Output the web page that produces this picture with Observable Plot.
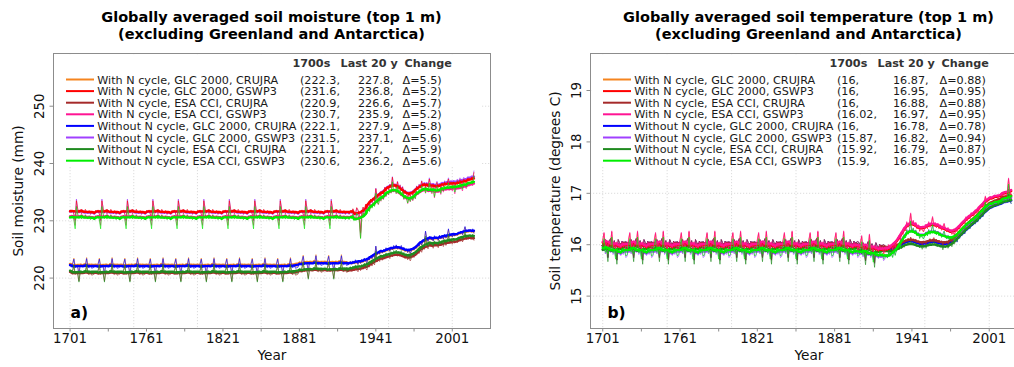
<!DOCTYPE html>
<html>
<head>
<meta charset="utf-8">
<script src="https://cdn.jsdelivr.net/npm/d3@7"></script>
<script src="https://cdn.jsdelivr.net/npm/@observablehq/plot@0.6"></script>
<style>
  html, body { margin: 0; padding: 0; background: #fff; }
  body { width: 1014px; height: 367px; overflow: hidden; position: relative; font-family: "DejaVu Sans", sans-serif; }
  .panel { position: absolute; top: 0; width: 500px; height: 367px; }
  .title { position: absolute; top: 9px; left: 23px; width: 497px; text-align: center; font-weight: bold;
           font-size: 14.5px; line-height: 16.5px; color: #000; white-space: nowrap; }
</style>
</head>
<body>
<div id="panelA" class="panel" style="left:0px"></div>
<div id="panelB" class="panel" style="left:537px"></div>
<script>
// Simulation years, one value per year
const years = d3.range(1701, 2019);

const seriesNames = [
  "With N cycle, GLC 2000, CRUJRA",
  "With N cycle, GLC 2000, GSWP3",
  "With N cycle, ESA CCI, CRUJRA",
  "With N cycle, ESA CCI, GSWP3",
  "Without N cycle, GLC 2000, CRUJRA",
  "Without N cycle, GLC 2000, GSWP3",
  "Without N cycle, ESA CCI, CRUJRA",
  "Without N cycle, ESA CCI, GSWP3"
];
const seriesColors = ["#f5841f", "#ff0000", "#a52a2a", "#ff1493", "#0000ff", "#a040ff", "#1f8a1f", "#00ee00"];
const drawOrder = [0, 4, 5, 2, 6, 1, 3, 7];

// Summary numbers printed in the legends
const moistEarly = [222.3, 231.6, 220.9, 230.7, 222.1, 231.5, 221.1, 230.6];
const moistLate  = [227.8, 236.8, 226.6, 235.9, 227.9, 237.1, 227, 236.2];
const moistDelta = [5.5, 5.2, 5.7, 5.2, 5.8, 5.6, 5.9, 5.6];
const tempEarly  = [16, 16, 16, 16.02, 16, 15.87, 15.92, 15.9];
const tempLate   = [16.87, 16.95, 16.88, 16.97, 16.78, 16.82, 16.79, 16.85];
const tempDelta  = [0.88, 0.95, 0.88, 0.95, 0.78, 0.94, 0.87, 0.95];

// Axis ticks
const xLabelYears = [1701, 1761, 1821, 1881, 1941, 2001];
const xTickYears = [1701, 1731, 1761, 1791, 1821, 1851, 1881, 1911, 1941, 1971, 2001];
const xGridYears = [1701, 1751, 1801, 1851, 1901, 1951, 2001];
const moistTicks = [220, 230, 240, 250];
const tempTicks = [15, 16, 17, 18, 19];

// ---------- Soil moisture (mm), annual, 1701-2018 ----------
const smWithGlcCru = [
222.4,222.1,222.6,223.5,222.0,222.3,222.1,220.9,222.5,222.4,222.2,222.6,222.3,223.6,222.1,222.0,222.4,221.9,222.0,222.1,
222.4,222.1,222.6,223.5,222.0,222.3,222.1,220.9,222.5,222.4,222.2,222.6,222.3,223.6,222.1,222.0,222.4,221.9,222.0,222.1,
222.4,222.1,222.6,223.5,222.0,222.3,222.1,220.9,222.5,222.4,222.2,222.6,222.3,223.6,222.1,222.0,222.4,221.9,222.0,222.1,
222.4,222.1,222.6,223.5,222.0,222.3,222.1,220.9,222.5,222.4,222.2,222.6,222.3,223.6,222.1,222.0,222.4,221.9,222.0,222.1,
222.4,222.1,222.6,223.5,222.0,222.3,222.1,220.9,222.5,222.4,222.2,222.6,222.3,223.6,222.1,222.0,222.4,221.9,222.0,222.1,
222.4,222.1,222.6,223.5,222.0,222.3,222.1,220.9,222.5,222.4,222.2,222.6,222.3,223.6,222.1,222.0,222.4,221.9,222.0,222.1,
222.4,222.1,222.6,223.5,222.0,222.3,222.1,220.9,222.5,222.4,222.2,222.6,222.3,223.6,222.1,222.0,222.4,221.9,222.0,222.1,
222.4,222.1,222.6,223.5,222.0,222.3,222.1,220.9,222.5,222.4,222.2,222.6,222.3,223.6,222.1,222.0,222.4,221.9,222.0,222.1,
222.4,222.1,222.6,223.5,222.0,222.3,222.1,220.9,222.5,222.4,222.2,222.6,222.3,223.6,222.1,222.0,222.4,221.9,222.0,222.1,
222.9,222.6,223.1,224.0,222.5,222.8,222.6,221.4,223.0,222.9,222.7,223.1,222.8,224.1,222.6,222.5,222.9,222.4,222.5,222.6,
222.9,222.6,223.1,224.0,222.5,222.8,222.6,221.4,223.0,222.9,222.7,223.1,222.8,224.1,222.6,222.5,222.9,222.4,222.5,222.6,
222.8,222.4,222.9,222.5,223.1,222.7,222.3,223.0,222.5,223.2,
222.8,223.4,222.9,222.6,223.5,223.1,223.8,223.3,223.9,223.5,
225.5,224.0,224.5,224.1,224.8,224.3,224.9,224.5,225.2,224.7,
225.0,224.6,225.4,224.9,225.6,225.1,225.7,225.0,225.5,225.2,
225.6,224.9,225.3,224.6,225.0,224.4,224.8,224.2,224.7,225.1,
224.8,225.5,225.2,225.9,225.5,226.1,225.7,226.6,226.2,228.1,
226.8,226.3,227.2,226.7,227.1,226.4,227.3,226.8,227.1,226.5,
227.4,226.8,227.2,226.7,227.5,226.9,227.3,228.5,227.2,227.7,
227.1,227.5,227.3,227.7,227.4,227.9,227.6,228.1,227.5,228.1,
228.9,227.9,228.2,228.0,228.3,228.2,228.5,227.8
];
const smWithGlcGsw = [
231.8,231.5,231.9,231.2,230.1,233.5,232.1,231.4,231.7,231.3,231.8,231.5,232.0,231.6,231.3,231.8,231.2,231.4,231.7,231.2,
231.8,231.5,231.9,231.2,230.1,233.5,232.1,231.4,231.7,231.3,231.8,231.5,232.0,231.6,231.3,231.8,231.2,231.4,231.7,231.2,
231.8,231.5,231.9,231.2,230.1,233.5,232.1,231.4,231.7,231.3,231.8,231.5,232.0,231.6,231.3,231.8,231.2,231.4,231.7,231.2,
231.8,231.5,231.9,231.2,230.1,233.5,232.1,231.4,231.7,231.3,231.8,231.5,232.0,231.6,231.3,231.8,231.2,231.4,231.7,231.2,
231.8,231.5,231.9,231.2,230.1,233.5,232.1,231.4,231.7,231.3,231.8,231.5,232.0,231.6,231.3,231.8,231.2,231.4,231.7,231.2,
231.8,231.5,231.9,231.2,230.1,233.5,232.1,231.4,231.7,231.3,231.8,231.5,232.0,231.6,231.3,231.8,231.2,231.4,231.7,231.2,
231.8,231.5,231.9,231.2,230.1,233.5,232.1,231.4,231.7,231.3,231.8,231.5,232.0,231.6,231.3,231.8,231.2,231.4,231.7,231.2,
231.8,231.5,231.9,231.2,230.1,233.5,232.1,231.4,231.7,231.3,231.8,231.5,232.0,231.6,231.3,231.8,231.2,231.4,231.7,231.2,
231.8,231.5,231.9,231.2,230.1,233.5,232.1,231.4,231.7,231.3,231.8,231.5,232.0,231.6,231.3,231.8,231.2,231.4,231.7,231.2,
231.8,231.5,231.9,231.2,230.1,233.5,232.1,231.4,231.7,231.3,231.8,231.5,232.0,231.6,231.3,231.8,231.2,231.4,231.7,231.2,
231.8,231.5,231.9,231.2,230.1,233.5,232.1,231.4,231.7,231.3,231.8,231.5,232.0,231.6,231.3,231.8,231.2,231.4,231.7,231.2,
231.8,231.4,232.1,231.6,231.2,232.3,231.9,231.0,227.9,231.5,
232.4,231.8,232.9,232.2,233.1,232.6,233.8,233.2,234.0,233.5,
235.6,234.1,233.7,234.6,234.3,235.2,234.6,235.8,235.1,236.0,
235.4,236.3,235.7,237.6,235.9,236.4,235.6,236.8,235.7,236.2,
235.4,235.9,234.6,235.3,234.9,233.9,234.8,234.2,235.0,234.4,
235.1,234.7,236.0,235.4,236.3,235.8,236.9,236.0,236.6,235.7,
236.5,236.0,237.3,236.1,235.6,236.4,234.9,236.2,236.7,235.8,
236.3,235.5,236.6,235.9,236.8,236.2,236.5,237.3,236.2,236.8,
236.1,236.7,235.6,236.6,237.0,236.4,237.2,236.7,236.1,237.3,
236.8,236.5,237.4,236.9,237.1,237.6,237.0,238.4
];
const smWithEsaCru = [
221.0,220.7,221.2,222.1,220.6,220.9,220.7,219.5,221.1,221.0,220.8,221.2,220.9,222.2,220.7,220.6,221.0,220.5,220.6,220.7,
221.0,220.7,221.2,222.1,220.6,220.9,220.7,219.5,221.1,221.0,220.8,221.2,220.9,222.2,220.7,220.6,221.0,220.5,220.6,220.7,
221.0,220.7,221.2,222.1,220.6,220.9,220.7,219.5,221.1,221.0,220.8,221.2,220.9,222.2,220.7,220.6,221.0,220.5,220.6,220.7,
221.0,220.7,221.2,222.1,220.6,220.9,220.7,219.5,221.1,221.0,220.8,221.2,220.9,222.2,220.7,220.6,221.0,220.5,220.6,220.7,
221.0,220.7,221.2,222.1,220.6,220.9,220.7,219.5,221.1,221.0,220.8,221.2,220.9,222.2,220.7,220.6,221.0,220.5,220.6,220.7,
221.0,220.7,221.2,222.1,220.6,220.9,220.7,219.5,221.1,221.0,220.8,221.2,220.9,222.2,220.7,220.6,221.0,220.5,220.6,220.7,
221.0,220.7,221.2,222.1,220.6,220.9,220.7,219.5,221.1,221.0,220.8,221.2,220.9,222.2,220.7,220.6,221.0,220.5,220.6,220.7,
221.0,220.7,221.2,222.1,220.6,220.9,220.7,219.5,221.1,221.0,220.8,221.2,220.9,222.2,220.7,220.6,221.0,220.5,220.6,220.7,
221.0,220.7,221.2,222.1,220.6,220.9,220.7,219.5,221.1,221.0,220.8,221.2,220.9,222.2,220.7,220.6,221.0,220.5,220.6,220.7,
221.5,221.2,221.7,222.6,221.1,221.4,221.2,220.0,221.6,221.5,221.3,221.7,221.4,222.7,221.2,221.1,221.5,221.0,221.1,221.2,
221.5,221.2,221.7,222.6,221.1,221.4,221.2,220.0,221.6,221.5,221.3,221.7,221.4,222.7,221.2,221.1,221.5,221.0,221.1,221.2,
221.6,221.2,221.7,221.3,221.9,221.5,221.1,221.8,221.3,222.0,
221.6,222.2,221.7,221.4,222.3,221.9,222.6,222.1,222.7,222.3,
224.3,222.8,223.3,222.9,223.6,223.1,223.7,223.3,224.0,223.5,
223.8,223.4,224.2,223.7,224.4,223.9,224.5,223.8,224.3,224.0,
224.4,223.7,224.1,223.4,223.8,223.2,223.6,223.0,223.5,223.9,
223.6,224.3,224.0,224.7,224.3,224.9,224.5,225.4,225.0,226.9,
225.6,225.1,226.0,225.5,225.9,225.2,226.1,225.6,225.9,225.3,
226.2,225.6,226.0,225.5,226.3,225.7,226.1,227.3,226.0,226.5,
225.9,226.3,226.1,226.5,226.2,226.7,226.4,226.9,226.3,226.9,
227.7,226.7,227.0,226.8,227.1,227.0,227.3,226.6
];
const smWithEsaGsw = [
230.9,230.6,231.0,230.3,229.2,232.6,231.2,230.5,230.8,230.4,230.9,230.6,231.1,230.7,230.4,230.9,230.3,230.5,230.8,230.3,
230.9,230.6,231.0,230.3,229.2,232.6,231.2,230.5,230.8,230.4,230.9,230.6,231.1,230.7,230.4,230.9,230.3,230.5,230.8,230.3,
230.9,230.6,231.0,230.3,229.2,232.6,231.2,230.5,230.8,230.4,230.9,230.6,231.1,230.7,230.4,230.9,230.3,230.5,230.8,230.3,
230.9,230.6,231.0,230.3,229.2,232.6,231.2,230.5,230.8,230.4,230.9,230.6,231.1,230.7,230.4,230.9,230.3,230.5,230.8,230.3,
230.9,230.6,231.0,230.3,229.2,232.6,231.2,230.5,230.8,230.4,230.9,230.6,231.1,230.7,230.4,230.9,230.3,230.5,230.8,230.3,
230.9,230.6,231.0,230.3,229.2,232.6,231.2,230.5,230.8,230.4,230.9,230.6,231.1,230.7,230.4,230.9,230.3,230.5,230.8,230.3,
230.9,230.6,231.0,230.3,229.2,232.6,231.2,230.5,230.8,230.4,230.9,230.6,231.1,230.7,230.4,230.9,230.3,230.5,230.8,230.3,
230.9,230.6,231.0,230.3,229.2,232.6,231.2,230.5,230.8,230.4,230.9,230.6,231.1,230.7,230.4,230.9,230.3,230.5,230.8,230.3,
230.9,230.6,231.0,230.3,229.2,232.6,231.2,230.5,230.8,230.4,230.9,230.6,231.1,230.7,230.4,230.9,230.3,230.5,230.8,230.3,
230.9,230.6,231.0,230.3,229.2,232.6,231.2,230.5,230.8,230.4,230.9,230.6,231.1,230.7,230.4,230.9,230.3,230.5,230.8,230.3,
230.9,230.6,231.0,230.3,229.2,232.6,231.2,230.5,230.8,230.4,230.9,230.6,231.1,230.7,230.4,230.9,230.3,230.5,230.8,230.3,
230.9,230.5,231.2,230.7,230.3,231.4,231.0,230.1,227.0,230.6,
231.5,230.9,232.0,231.3,232.2,231.7,232.9,232.3,233.1,232.6,
234.7,233.2,232.8,233.7,233.4,234.3,233.7,234.9,234.2,235.1,
234.5,235.4,234.8,236.7,235.0,235.5,234.7,235.9,234.8,235.3,
234.5,235.0,233.7,234.4,234.0,233.0,233.9,233.3,234.1,233.5,
234.2,233.8,235.1,234.5,235.4,234.9,236.0,235.1,235.7,234.8,
235.6,235.1,236.4,235.2,234.7,235.5,234.0,235.3,235.8,234.9,
235.4,234.6,235.7,235.0,235.9,235.3,235.6,236.4,235.3,235.9,
235.2,235.8,234.7,235.7,236.1,235.5,236.3,235.8,235.2,236.4,
235.9,235.6,236.5,236.0,236.2,236.7,236.1,237.5
];
const smNoGlcCru = [
222.2,221.9,222.4,223.3,221.8,222.1,221.9,220.7,222.3,222.2,222.0,222.4,222.1,223.4,221.9,221.8,222.2,221.7,221.8,221.9,
222.2,221.9,222.4,223.3,221.8,222.1,221.9,220.7,222.3,222.2,222.0,222.4,222.1,223.4,221.9,221.8,222.2,221.7,221.8,221.9,
222.2,221.9,222.4,223.3,221.8,222.1,221.9,220.7,222.3,222.2,222.0,222.4,222.1,223.4,221.9,221.8,222.2,221.7,221.8,221.9,
222.2,221.9,222.4,223.3,221.8,222.1,221.9,220.7,222.3,222.2,222.0,222.4,222.1,223.4,221.9,221.8,222.2,221.7,221.8,221.9,
222.2,221.9,222.4,223.3,221.8,222.1,221.9,220.7,222.3,222.2,222.0,222.4,222.1,223.4,221.9,221.8,222.2,221.7,221.8,221.9,
222.2,221.9,222.4,223.3,221.8,222.1,221.9,220.7,222.3,222.2,222.0,222.4,222.1,223.4,221.9,221.8,222.2,221.7,221.8,221.9,
222.2,221.9,222.4,223.3,221.8,222.1,221.9,220.7,222.3,222.2,222.0,222.4,222.1,223.4,221.9,221.8,222.2,221.7,221.8,221.9,
222.2,221.9,222.4,223.3,221.8,222.1,221.9,220.7,222.3,222.2,222.0,222.4,222.1,223.4,221.9,221.8,222.2,221.7,221.8,221.9,
222.2,221.9,222.4,223.3,221.8,222.1,221.9,220.7,222.3,222.2,222.0,222.4,222.1,223.4,221.9,221.8,222.2,221.7,221.8,221.9,
222.7,222.4,222.9,223.8,222.3,222.6,222.4,221.2,222.8,222.7,222.5,222.9,222.6,223.9,222.4,222.3,222.7,222.2,222.3,222.4,
222.7,222.4,222.9,223.8,222.3,222.6,222.4,221.2,222.8,222.7,222.5,222.9,222.6,223.9,222.4,222.3,222.7,222.2,222.3,222.4,
222.9,222.5,223.0,222.6,223.2,222.8,222.4,223.1,222.6,223.3,
222.9,223.5,223.0,222.7,223.6,223.2,223.9,223.4,224.0,223.6,
225.6,224.1,224.6,224.2,224.9,224.4,225.0,224.6,225.3,224.8,
225.1,224.7,225.5,225.0,225.7,225.2,225.8,225.1,225.6,225.3,
225.7,225.0,225.4,224.7,225.1,224.5,224.9,224.3,224.8,225.2,
224.9,225.6,225.3,226.0,225.6,226.2,225.8,226.7,226.3,228.2,
226.9,226.4,227.3,226.8,227.2,226.5,227.4,226.9,227.2,226.6,
227.5,226.9,227.3,226.8,227.6,227.0,227.4,228.6,227.3,227.8,
227.2,227.6,227.4,227.8,227.5,228.0,227.7,228.2,227.6,228.2,
229.0,228.0,228.3,228.1,228.4,228.3,228.6,227.9
];
const smNoGlcGsw = [
231.7,231.4,231.8,231.1,230.0,233.8,232.0,231.3,231.6,231.2,231.7,231.4,231.9,231.5,231.2,231.7,231.1,231.3,231.6,231.1,
231.7,231.4,231.8,231.1,230.0,233.8,232.0,231.3,231.6,231.2,231.7,231.4,231.9,231.5,231.2,231.7,231.1,231.3,231.6,231.1,
231.7,231.4,231.8,231.1,230.0,233.8,232.0,231.3,231.6,231.2,231.7,231.4,231.9,231.5,231.2,231.7,231.1,231.3,231.6,231.1,
231.7,231.4,231.8,231.1,230.0,233.8,232.0,231.3,231.6,231.2,231.7,231.4,231.9,231.5,231.2,231.7,231.1,231.3,231.6,231.1,
231.7,231.4,231.8,231.1,230.0,233.8,232.0,231.3,231.6,231.2,231.7,231.4,231.9,231.5,231.2,231.7,231.1,231.3,231.6,231.1,
231.7,231.4,231.8,231.1,230.0,233.8,232.0,231.3,231.6,231.2,231.7,231.4,231.9,231.5,231.2,231.7,231.1,231.3,231.6,231.1,
231.7,231.4,231.8,231.1,230.0,233.8,232.0,231.3,231.6,231.2,231.7,231.4,231.9,231.5,231.2,231.7,231.1,231.3,231.6,231.1,
231.7,231.4,231.8,231.1,230.0,233.8,232.0,231.3,231.6,231.2,231.7,231.4,231.9,231.5,231.2,231.7,231.1,231.3,231.6,231.1,
231.7,231.4,231.8,231.1,230.0,233.8,232.0,231.3,231.6,231.2,231.7,231.4,231.9,231.5,231.2,231.7,231.1,231.3,231.6,231.1,
231.7,231.4,231.8,231.1,230.0,233.8,232.0,231.3,231.6,231.2,231.7,231.4,231.9,231.5,231.2,231.7,231.1,231.3,231.6,231.1,
231.7,231.4,231.8,231.1,230.0,233.8,232.0,231.3,231.6,231.2,231.7,231.4,231.9,231.5,231.2,231.7,231.1,231.3,231.6,231.1,
231.7,231.3,232.0,231.5,231.1,232.2,231.8,230.9,227.8,231.4,
232.3,231.7,232.8,232.1,233.0,232.5,233.7,233.1,233.9,233.4,
235.7,234.2,233.8,234.7,234.4,235.3,234.7,235.9,235.2,236.1,
235.5,236.4,235.8,237.7,236.0,236.5,235.7,236.9,235.8,236.3,
235.5,236.0,234.7,235.4,235.0,234.0,234.9,234.3,235.1,234.5,
235.2,234.8,236.1,235.5,236.4,235.9,237.0,236.1,236.7,235.8,
236.7,236.2,237.5,236.3,235.8,236.6,235.1,236.4,236.9,236.0,
236.5,235.7,236.8,236.1,237.0,236.4,236.7,237.5,236.5,237.1,
236.4,237.0,235.9,236.9,237.3,236.7,237.5,237.0,236.4,237.6,
237.1,236.8,237.7,237.2,237.4,237.9,237.3,238.7
];
const smNoEsaCru = [
221.2,220.9,221.4,222.3,220.8,221.1,220.9,219.3,221.3,221.2,221.0,221.4,221.1,222.4,220.9,220.8,221.2,220.7,220.8,220.9,
221.2,220.9,221.4,222.3,220.8,221.1,220.9,219.3,221.3,221.2,221.0,221.4,221.1,222.4,220.9,220.8,221.2,220.7,220.8,220.9,
221.2,220.9,221.4,222.3,220.8,221.1,220.9,219.3,221.3,221.2,221.0,221.4,221.1,222.4,220.9,220.8,221.2,220.7,220.8,220.9,
221.2,220.9,221.4,222.3,220.8,221.1,220.9,219.3,221.3,221.2,221.0,221.4,221.1,222.4,220.9,220.8,221.2,220.7,220.8,220.9,
221.2,220.9,221.4,222.3,220.8,221.1,220.9,219.3,221.3,221.2,221.0,221.4,221.1,222.4,220.9,220.8,221.2,220.7,220.8,220.9,
221.2,220.9,221.4,222.3,220.8,221.1,220.9,219.3,221.3,221.2,221.0,221.4,221.1,222.4,220.9,220.8,221.2,220.7,220.8,220.9,
221.2,220.9,221.4,222.3,220.8,221.1,220.9,219.3,221.3,221.2,221.0,221.4,221.1,222.4,220.9,220.8,221.2,220.7,220.8,220.9,
221.2,220.9,221.4,222.3,220.8,221.1,220.9,219.3,221.3,221.2,221.0,221.4,221.1,222.4,220.9,220.8,221.2,220.7,220.8,220.9,
221.2,220.9,221.4,222.3,220.8,221.1,220.9,219.3,221.3,221.2,221.0,221.4,221.1,222.4,220.9,220.8,221.2,220.7,220.8,220.9,
221.7,221.4,221.9,222.8,221.3,221.6,221.4,219.8,221.8,221.7,221.5,221.9,221.6,222.9,221.4,221.3,221.7,221.2,221.3,221.4,
221.7,221.4,221.9,222.8,221.3,221.6,221.4,219.8,221.8,221.7,221.5,221.9,221.6,222.9,221.4,221.3,221.7,221.2,221.3,221.4,
222.0,221.6,222.1,221.7,222.3,221.9,221.5,222.2,221.7,222.4,
222.0,222.6,222.1,221.8,222.7,222.3,223.0,222.5,223.1,222.7,
224.7,223.2,223.7,223.3,224.0,223.5,224.1,223.7,224.4,223.9,
224.2,223.8,224.6,224.1,224.8,224.3,224.9,224.2,224.7,224.4,
224.8,224.1,224.5,223.8,224.2,223.6,224.0,223.4,223.9,224.3,
224.0,224.7,224.4,225.1,224.7,225.3,224.9,225.8,225.4,227.3,
226.0,225.5,226.4,225.9,226.3,225.6,226.5,226.0,226.3,225.7,
226.6,226.0,226.4,225.9,226.7,226.1,226.5,227.7,226.4,226.9,
226.3,226.7,226.5,226.9,226.6,227.1,226.8,227.3,226.7,227.3,
228.1,227.1,227.4,227.2,227.5,227.4,227.7,227.0
];
const smNoEsaGsw = [
230.8,230.5,230.9,230.2,228.6,232.5,231.1,230.4,230.7,230.3,230.8,230.5,231.0,230.6,230.3,230.8,230.2,230.4,230.7,230.2,
230.8,230.5,230.9,230.2,228.6,232.5,231.1,230.4,230.7,230.3,230.8,230.5,231.0,230.6,230.3,230.8,230.2,230.4,230.7,230.2,
230.8,230.5,230.9,230.2,228.6,232.5,231.1,230.4,230.7,230.3,230.8,230.5,231.0,230.6,230.3,230.8,230.2,230.4,230.7,230.2,
230.8,230.5,230.9,230.2,228.6,232.5,231.1,230.4,230.7,230.3,230.8,230.5,231.0,230.6,230.3,230.8,230.2,230.4,230.7,230.2,
230.8,230.5,230.9,230.2,228.6,232.5,231.1,230.4,230.7,230.3,230.8,230.5,231.0,230.6,230.3,230.8,230.2,230.4,230.7,230.2,
230.8,230.5,230.9,230.2,228.6,232.5,231.1,230.4,230.7,230.3,230.8,230.5,231.0,230.6,230.3,230.8,230.2,230.4,230.7,230.2,
230.8,230.5,230.9,230.2,228.6,232.5,231.1,230.4,230.7,230.3,230.8,230.5,231.0,230.6,230.3,230.8,230.2,230.4,230.7,230.2,
230.8,230.5,230.9,230.2,228.6,232.5,231.1,230.4,230.7,230.3,230.8,230.5,231.0,230.6,230.3,230.8,230.2,230.4,230.7,230.2,
230.8,230.5,230.9,230.2,228.6,232.5,231.1,230.4,230.7,230.3,230.8,230.5,231.0,230.6,230.3,230.8,230.2,230.4,230.7,230.2,
230.8,230.5,230.9,230.2,228.6,232.5,231.1,230.4,230.7,230.3,230.8,230.5,231.0,230.6,230.3,230.8,230.2,230.4,230.7,230.2,
230.8,230.5,230.9,230.2,228.6,232.5,231.1,230.4,230.7,230.3,230.8,230.5,231.0,230.6,230.3,230.8,230.2,230.4,230.7,230.2,
230.8,230.4,231.1,230.6,230.2,231.3,230.9,230.0,226.9,230.5,
231.4,230.8,231.9,231.2,232.1,231.6,232.8,232.2,233.0,232.5,
234.8,233.3,232.9,233.8,233.5,234.4,233.8,235.0,234.3,235.2,
234.6,235.5,234.9,236.8,235.1,235.6,234.8,236.0,234.9,235.4,
234.6,235.1,233.8,234.5,234.1,233.1,234.0,233.4,234.2,233.6,
234.3,233.9,235.2,234.6,235.5,235.0,236.1,235.2,235.8,234.9,
235.8,235.3,236.6,235.4,234.9,235.7,234.2,235.5,236.0,235.1,
235.6,234.8,235.9,235.2,236.1,235.5,235.8,236.6,235.6,236.2,
235.5,236.1,235.0,236.0,236.4,235.8,236.6,236.1,235.5,236.7,
236.2,235.9,236.8,236.3,236.5,237.0,236.4,237.8
];

// ---------- Soil temperature (degrees C), annual, 1701-2018 ----------
const stWithGlcCru = [
16.05,15.96,16.10,15.98,15.75,16.06,16.12,15.95,16.00,16.08,15.94,15.70,16.10,16.04,15.98,16.07,15.97,16.05,16.06,16.04,
16.05,15.96,16.10,15.98,15.75,16.06,16.12,15.95,16.00,16.08,15.94,15.70,16.10,16.04,15.98,16.07,15.97,16.05,16.06,16.04,
16.05,15.96,16.10,15.98,15.75,16.06,16.12,15.95,16.00,16.08,15.94,15.70,16.10,16.04,15.98,16.07,15.97,16.05,16.06,16.04,
16.05,15.96,16.10,15.98,15.75,16.06,16.12,15.95,16.00,16.08,15.94,15.70,16.10,16.04,15.98,16.07,15.97,16.05,16.06,16.04,
16.05,15.96,16.10,15.98,15.75,16.06,16.12,15.95,16.00,16.08,15.94,15.70,16.10,16.04,15.98,16.07,15.97,16.05,16.06,16.04,
16.05,15.96,16.10,15.98,15.75,16.06,16.12,15.95,16.00,16.08,15.94,15.70,16.10,16.04,15.98,16.07,15.97,16.05,16.06,16.04,
16.05,15.96,16.10,15.98,15.75,16.06,16.12,15.95,16.00,16.08,15.94,15.70,16.10,16.04,15.98,16.07,15.97,16.05,16.06,16.04,
16.05,15.96,16.10,15.98,15.75,16.06,16.12,15.95,16.00,16.08,15.94,15.70,16.10,16.04,15.98,16.07,15.97,16.05,16.06,16.04,
16.05,15.96,16.10,15.98,15.75,16.06,16.12,15.95,16.00,16.08,15.94,15.70,16.10,16.04,15.98,16.07,15.97,16.05,16.06,16.04,
16.05,15.96,16.10,15.98,15.75,16.06,16.12,15.95,16.00,16.08,15.94,15.70,16.10,16.04,15.98,16.07,15.97,16.05,16.06,16.04,
15.99,15.90,16.04,15.92,15.69,16.00,16.06,15.89,15.94,16.02,15.88,15.64,16.04,15.98,15.92,16.01,15.91,15.99,16.00,15.98,
15.93,15.96,15.89,15.98,15.92,15.95,15.90,15.99,15.94,16.01,
15.97,16.04,15.99,16.06,16.02,16.09,16.05,16.12,16.07,16.14,
16.08,16.11,16.06,16.10,16.03,16.07,16.01,16.05,15.98,16.03,
16.06,16.00,16.08,16.04,16.11,16.05,16.09,16.13,16.06,16.10,
16.03,16.08,16.02,16.07,15.97,16.05,16.01,16.06,16.00,16.04,
16.09,16.03,16.11,16.08,16.17,16.14,16.24,16.21,16.29,16.27,
16.35,16.30,16.41,16.37,16.44,16.40,16.49,16.46,16.52,16.49,
16.57,16.53,16.61,16.59,16.66,16.63,16.70,16.79,16.73,16.77,
16.81,16.81,16.82,16.83,16.86,16.84,16.86,16.85,16.87,16.91,
16.88,16.89,16.92,16.90,16.95,17.07,16.94,16.89
];
const stWithGlcGsw = [
16.08,16.22,15.95,16.02,15.92,16.05,15.98,16.25,15.94,16.00,15.90,16.04,15.95,16.02,15.92,16.03,15.94,16.00,15.88,15.91,
16.08,16.22,15.95,16.02,15.92,16.05,15.98,16.25,15.94,16.00,15.90,16.04,15.95,16.02,15.92,16.03,15.94,16.00,15.88,15.91,
16.08,16.22,15.95,16.02,15.92,16.05,15.98,16.25,15.94,16.00,15.90,16.04,15.95,16.02,15.92,16.03,15.94,16.00,15.88,15.91,
16.08,16.22,15.95,16.02,15.92,16.05,15.98,16.25,15.94,16.00,15.90,16.04,15.95,16.02,15.92,16.03,15.94,16.00,15.88,15.91,
16.08,16.22,15.95,16.02,15.92,16.05,15.98,16.25,15.94,16.00,15.90,16.04,15.95,16.02,15.92,16.03,15.94,16.00,15.88,15.91,
16.08,16.22,15.95,16.02,15.92,16.05,15.98,16.25,15.94,16.00,15.90,16.04,15.95,16.02,15.92,16.03,15.94,16.00,15.88,15.91,
16.08,16.22,15.95,16.02,15.92,16.05,15.98,16.25,15.94,16.00,15.90,16.04,15.95,16.02,15.92,16.03,15.94,16.00,15.88,15.91,
16.08,16.22,15.95,16.02,15.92,16.05,15.98,16.25,15.94,16.00,15.90,16.04,15.95,16.02,15.92,16.03,15.94,16.00,15.88,15.91,
16.08,16.22,15.95,16.02,15.92,16.05,15.98,16.25,15.94,16.00,15.90,16.04,15.95,16.02,15.92,16.03,15.94,16.00,15.88,15.91,
16.08,16.22,15.95,16.02,15.92,16.05,15.98,16.25,15.94,16.00,15.90,16.04,15.95,16.02,15.92,16.03,15.94,16.00,15.88,15.91,
16.02,16.16,15.89,15.96,15.86,15.99,15.92,16.19,15.88,15.94,15.84,15.98,15.89,15.96,15.86,15.97,15.88,15.94,15.82,15.85,
15.95,15.88,15.99,15.91,15.96,15.89,16.02,15.93,16.04,16.10,
16.16,16.08,16.25,16.20,16.31,16.27,16.43,16.34,16.40,16.60,
16.38,16.46,16.35,16.42,16.31,16.37,16.26,16.33,16.28,16.25,
16.32,16.38,16.31,16.43,16.34,16.40,16.53,16.37,16.42,16.33,
16.39,16.31,16.37,16.28,16.34,16.40,16.29,16.25,16.32,16.23,
16.27,16.20,16.24,16.18,16.28,16.25,16.36,16.31,16.40,16.38,
16.45,16.41,16.53,16.47,16.55,16.50,16.61,16.58,16.56,16.66,
16.62,16.59,16.68,16.72,16.78,16.73,16.81,16.93,16.82,16.84,
16.91,16.91,16.90,16.90,16.95,16.93,16.93,16.89,16.96,16.98,
16.95,16.95,16.97,16.94,17.01,17.28,17.02,16.97
];
const stWithEsaCru = [
16.05,15.96,16.10,15.98,15.75,16.06,16.12,15.95,16.00,16.08,15.94,15.70,16.10,16.04,15.98,16.07,15.97,16.05,16.06,16.04,
16.05,15.96,16.10,15.98,15.75,16.06,16.12,15.95,16.00,16.08,15.94,15.70,16.10,16.04,15.98,16.07,15.97,16.05,16.06,16.04,
16.05,15.96,16.10,15.98,15.75,16.06,16.12,15.95,16.00,16.08,15.94,15.70,16.10,16.04,15.98,16.07,15.97,16.05,16.06,16.04,
16.05,15.96,16.10,15.98,15.75,16.06,16.12,15.95,16.00,16.08,15.94,15.70,16.10,16.04,15.98,16.07,15.97,16.05,16.06,16.04,
16.05,15.96,16.10,15.98,15.75,16.06,16.12,15.95,16.00,16.08,15.94,15.70,16.10,16.04,15.98,16.07,15.97,16.05,16.06,16.04,
16.05,15.96,16.10,15.98,15.75,16.06,16.12,15.95,16.00,16.08,15.94,15.70,16.10,16.04,15.98,16.07,15.97,16.05,16.06,16.04,
16.05,15.96,16.10,15.98,15.75,16.06,16.12,15.95,16.00,16.08,15.94,15.70,16.10,16.04,15.98,16.07,15.97,16.05,16.06,16.04,
16.05,15.96,16.10,15.98,15.75,16.06,16.12,15.95,16.00,16.08,15.94,15.70,16.10,16.04,15.98,16.07,15.97,16.05,16.06,16.04,
16.05,15.96,16.10,15.98,15.75,16.06,16.12,15.95,16.00,16.08,15.94,15.70,16.10,16.04,15.98,16.07,15.97,16.05,16.06,16.04,
16.05,15.96,16.10,15.98,15.75,16.06,16.12,15.95,16.00,16.08,15.94,15.70,16.10,16.04,15.98,16.07,15.97,16.05,16.06,16.04,
15.99,15.90,16.04,15.92,15.69,16.00,16.06,15.89,15.94,16.02,15.88,15.64,16.04,15.98,15.92,16.01,15.91,15.99,16.00,15.98,
15.94,15.97,15.90,15.99,15.93,15.96,15.91,16.00,15.95,16.02,
15.98,16.05,16.00,16.07,16.03,16.10,16.06,16.13,16.08,16.15,
16.09,16.12,16.07,16.11,16.04,16.08,16.02,16.06,15.99,16.04,
16.07,16.01,16.09,16.05,16.12,16.06,16.10,16.14,16.07,16.11,
16.04,16.09,16.03,16.08,15.98,16.06,16.02,16.07,16.01,16.05,
16.10,16.04,16.12,16.09,16.18,16.15,16.25,16.22,16.30,16.28,
16.36,16.31,16.42,16.38,16.45,16.41,16.50,16.47,16.53,16.50,
16.58,16.54,16.62,16.60,16.67,16.64,16.71,16.80,16.74,16.78,
16.82,16.82,16.83,16.84,16.87,16.85,16.87,16.86,16.88,16.92,
16.89,16.90,16.93,16.91,16.96,17.08,16.95,16.90
];
const stWithEsaGsw = [
16.10,16.24,15.97,16.04,15.94,16.07,16.00,16.27,15.96,16.02,15.92,16.06,15.97,16.04,15.94,16.05,15.96,16.02,15.90,15.93,
16.10,16.24,15.97,16.04,15.94,16.07,16.00,16.27,15.96,16.02,15.92,16.06,15.97,16.04,15.94,16.05,15.96,16.02,15.90,15.93,
16.10,16.24,15.97,16.04,15.94,16.07,16.00,16.27,15.96,16.02,15.92,16.06,15.97,16.04,15.94,16.05,15.96,16.02,15.90,15.93,
16.10,16.24,15.97,16.04,15.94,16.07,16.00,16.27,15.96,16.02,15.92,16.06,15.97,16.04,15.94,16.05,15.96,16.02,15.90,15.93,
16.10,16.24,15.97,16.04,15.94,16.07,16.00,16.27,15.96,16.02,15.92,16.06,15.97,16.04,15.94,16.05,15.96,16.02,15.90,15.93,
16.10,16.24,15.97,16.04,15.94,16.07,16.00,16.27,15.96,16.02,15.92,16.06,15.97,16.04,15.94,16.05,15.96,16.02,15.90,15.93,
16.10,16.24,15.97,16.04,15.94,16.07,16.00,16.27,15.96,16.02,15.92,16.06,15.97,16.04,15.94,16.05,15.96,16.02,15.90,15.93,
16.10,16.24,15.97,16.04,15.94,16.07,16.00,16.27,15.96,16.02,15.92,16.06,15.97,16.04,15.94,16.05,15.96,16.02,15.90,15.93,
16.10,16.24,15.97,16.04,15.94,16.07,16.00,16.27,15.96,16.02,15.92,16.06,15.97,16.04,15.94,16.05,15.96,16.02,15.90,15.93,
16.10,16.24,15.97,16.04,15.94,16.07,16.00,16.27,15.96,16.02,15.92,16.06,15.97,16.04,15.94,16.05,15.96,16.02,15.90,15.93,
16.04,16.18,15.91,15.98,15.88,16.01,15.94,16.21,15.90,15.96,15.86,16.00,15.91,15.98,15.88,15.99,15.90,15.96,15.84,15.87,
15.97,15.90,16.01,15.93,15.98,15.91,16.04,15.95,16.06,16.12,
16.18,16.10,16.27,16.22,16.33,16.29,16.45,16.36,16.42,16.62,
16.40,16.48,16.37,16.44,16.33,16.39,16.28,16.35,16.30,16.27,
16.34,16.40,16.33,16.45,16.36,16.42,16.55,16.39,16.44,16.35,
16.41,16.33,16.39,16.30,16.36,16.42,16.31,16.27,16.34,16.25,
16.29,16.22,16.26,16.20,16.30,16.27,16.38,16.33,16.42,16.40,
16.47,16.43,16.55,16.49,16.57,16.52,16.63,16.60,16.58,16.68,
16.64,16.61,16.70,16.74,16.80,16.75,16.83,16.95,16.84,16.86,
16.93,16.93,16.92,16.92,16.97,16.95,16.95,16.91,16.98,17.00,
16.97,16.97,16.99,16.96,17.03,17.30,17.04,16.99
];
const stNoGlcCru = [
16.05,15.96,16.10,15.98,15.75,16.06,16.12,15.95,16.00,16.08,15.94,15.70,16.10,16.04,15.98,16.07,15.97,16.05,16.06,16.04,
16.05,15.96,16.10,15.98,15.75,16.06,16.12,15.95,16.00,16.08,15.94,15.70,16.10,16.04,15.98,16.07,15.97,16.05,16.06,16.04,
16.05,15.96,16.10,15.98,15.75,16.06,16.12,15.95,16.00,16.08,15.94,15.70,16.10,16.04,15.98,16.07,15.97,16.05,16.06,16.04,
16.05,15.96,16.10,15.98,15.75,16.06,16.12,15.95,16.00,16.08,15.94,15.70,16.10,16.04,15.98,16.07,15.97,16.05,16.06,16.04,
16.05,15.96,16.10,15.98,15.75,16.06,16.12,15.95,16.00,16.08,15.94,15.70,16.10,16.04,15.98,16.07,15.97,16.05,16.06,16.04,
16.05,15.96,16.10,15.98,15.75,16.06,16.12,15.95,16.00,16.08,15.94,15.70,16.10,16.04,15.98,16.07,15.97,16.05,16.06,16.04,
16.05,15.96,16.10,15.98,15.75,16.06,16.12,15.95,16.00,16.08,15.94,15.70,16.10,16.04,15.98,16.07,15.97,16.05,16.06,16.04,
16.05,15.96,16.10,15.98,15.75,16.06,16.12,15.95,16.00,16.08,15.94,15.70,16.10,16.04,15.98,16.07,15.97,16.05,16.06,16.04,
16.05,15.96,16.10,15.98,15.75,16.06,16.12,15.95,16.00,16.08,15.94,15.70,16.10,16.04,15.98,16.07,15.97,16.05,16.06,16.04,
16.05,15.96,16.10,15.98,15.75,16.06,16.12,15.95,16.00,16.08,15.94,15.70,16.10,16.04,15.98,16.07,15.97,16.05,16.06,16.04,
15.99,15.90,16.04,15.92,15.69,16.00,16.06,15.89,15.94,16.02,15.88,15.64,16.04,15.98,15.92,16.01,15.91,15.99,16.00,15.98,
15.91,15.94,15.87,15.96,15.90,15.93,15.88,15.97,15.92,15.99,
15.95,16.02,15.97,16.04,16.00,16.07,16.03,16.10,16.05,16.12,
16.06,16.09,16.04,16.08,16.01,16.05,15.99,16.03,15.96,16.01,
16.04,15.98,16.06,16.02,16.09,16.03,16.07,16.11,16.04,16.08,
16.01,16.06,16.00,16.05,15.95,16.03,15.99,16.04,15.98,16.02,
16.07,16.01,16.09,16.06,16.15,16.05,16.15,16.12,16.20,16.18,
16.26,16.21,16.32,16.28,16.35,16.31,16.40,16.37,16.43,16.40,
16.48,16.44,16.52,16.50,16.57,16.54,16.61,16.70,16.64,16.68,
16.72,16.72,16.73,16.74,16.77,16.75,16.77,16.76,16.78,16.82,
16.79,16.80,16.83,16.81,16.86,16.98,16.85,16.80
];
const stNoGlcGsw = [
15.95,16.09,15.82,15.89,15.79,15.92,15.85,16.12,15.81,15.87,15.77,15.91,15.82,15.89,15.79,15.90,15.81,15.87,15.75,15.78,
15.95,16.09,15.82,15.89,15.79,15.92,15.85,16.12,15.81,15.87,15.77,15.91,15.82,15.89,15.79,15.90,15.81,15.87,15.75,15.78,
15.95,16.09,15.82,15.89,15.79,15.92,15.85,16.12,15.81,15.87,15.77,15.91,15.82,15.89,15.79,15.90,15.81,15.87,15.75,15.78,
15.95,16.09,15.82,15.89,15.79,15.92,15.85,16.12,15.81,15.87,15.77,15.91,15.82,15.89,15.79,15.90,15.81,15.87,15.75,15.78,
15.95,16.09,15.82,15.89,15.79,15.92,15.85,16.12,15.81,15.87,15.77,15.91,15.82,15.89,15.79,15.90,15.81,15.87,15.75,15.78,
15.95,16.09,15.82,15.89,15.79,15.92,15.85,16.12,15.81,15.87,15.77,15.91,15.82,15.89,15.79,15.90,15.81,15.87,15.75,15.78,
15.95,16.09,15.82,15.89,15.79,15.92,15.85,16.12,15.81,15.87,15.77,15.91,15.82,15.89,15.79,15.90,15.81,15.87,15.75,15.78,
15.95,16.09,15.82,15.89,15.79,15.92,15.85,16.12,15.81,15.87,15.77,15.91,15.82,15.89,15.79,15.90,15.81,15.87,15.75,15.78,
15.95,16.09,15.82,15.89,15.79,15.92,15.85,16.12,15.81,15.87,15.77,15.91,15.82,15.89,15.79,15.90,15.81,15.87,15.75,15.78,
15.95,16.09,15.82,15.89,15.79,15.92,15.85,16.12,15.81,15.87,15.77,15.91,15.82,15.89,15.79,15.90,15.81,15.87,15.75,15.78,
15.89,16.03,15.76,15.83,15.73,15.86,15.79,16.06,15.75,15.81,15.71,15.85,15.76,15.83,15.73,15.84,15.75,15.81,15.69,15.72,
15.82,15.75,15.86,15.78,15.83,15.76,15.89,15.80,15.91,15.97,
16.03,15.95,16.12,16.07,16.18,16.14,16.30,16.21,16.27,16.47,
16.25,16.33,16.22,16.29,16.18,16.24,16.13,16.20,16.15,16.12,
16.19,16.25,16.18,16.30,16.21,16.27,16.40,16.24,16.29,16.20,
16.26,16.18,16.24,16.15,16.21,16.27,16.16,16.12,16.19,16.10,
16.14,16.07,16.11,16.05,16.15,16.12,16.23,16.18,16.27,16.25,
16.32,16.28,16.40,16.34,16.42,16.37,16.48,16.45,16.43,16.53,
16.49,16.46,16.55,16.59,16.65,16.60,16.68,16.80,16.69,16.71,
16.78,16.78,16.77,16.77,16.82,16.80,16.80,16.76,16.83,16.85,
16.82,16.82,16.84,16.81,16.88,17.15,16.89,16.84
];
const stNoEsaCru = [
15.97,15.88,16.02,15.90,15.67,15.98,16.04,15.87,15.92,16.00,15.86,15.62,16.02,15.96,15.90,15.99,15.89,15.97,15.98,15.96,
15.97,15.88,16.02,15.90,15.67,15.98,16.04,15.87,15.92,16.00,15.86,15.62,16.02,15.96,15.90,15.99,15.89,15.97,15.98,15.96,
15.97,15.88,16.02,15.90,15.67,15.98,16.04,15.87,15.92,16.00,15.86,15.62,16.02,15.96,15.90,15.99,15.89,15.97,15.98,15.96,
15.97,15.88,16.02,15.90,15.67,15.98,16.04,15.87,15.92,16.00,15.86,15.62,16.02,15.96,15.90,15.99,15.89,15.97,15.98,15.96,
15.97,15.88,16.02,15.90,15.67,15.98,16.04,15.87,15.92,16.00,15.86,15.62,16.02,15.96,15.90,15.99,15.89,15.97,15.98,15.96,
15.97,15.88,16.02,15.90,15.67,15.98,16.04,15.87,15.92,16.00,15.86,15.62,16.02,15.96,15.90,15.99,15.89,15.97,15.98,15.96,
15.97,15.88,16.02,15.90,15.67,15.98,16.04,15.87,15.92,16.00,15.86,15.62,16.02,15.96,15.90,15.99,15.89,15.97,15.98,15.96,
15.97,15.88,16.02,15.90,15.67,15.98,16.04,15.87,15.92,16.00,15.86,15.62,16.02,15.96,15.90,15.99,15.89,15.97,15.98,15.96,
15.97,15.88,16.02,15.90,15.67,15.98,16.04,15.87,15.92,16.00,15.86,15.62,16.02,15.96,15.90,15.99,15.89,15.97,15.98,15.96,
15.97,15.88,16.02,15.90,15.67,15.98,16.04,15.87,15.92,16.00,15.86,15.62,16.02,15.96,15.90,15.99,15.89,15.97,15.98,15.96,
15.91,15.82,15.96,15.84,15.61,15.92,15.98,15.81,15.86,15.94,15.80,15.56,15.96,15.90,15.84,15.93,15.83,15.91,15.92,15.90,
15.86,15.89,15.82,15.91,15.85,15.88,15.83,15.92,15.87,15.94,
15.90,15.97,15.92,15.99,15.95,16.02,15.98,16.05,16.00,16.07,
16.01,16.04,15.99,16.03,15.96,16.00,15.94,15.98,15.91,15.96,
15.99,15.93,16.01,15.97,16.04,15.98,16.02,16.06,15.99,16.03,
15.96,16.01,15.95,16.00,15.90,15.98,15.94,15.99,15.93,15.97,
16.02,15.96,16.04,16.01,16.10,16.06,16.16,16.13,16.21,16.19,
16.27,16.22,16.33,16.29,16.36,16.32,16.41,16.38,16.44,16.41,
16.49,16.45,16.53,16.51,16.58,16.55,16.62,16.71,16.65,16.69,
16.73,16.73,16.74,16.75,16.78,16.76,16.78,16.77,16.79,16.83,
16.80,16.81,16.84,16.82,16.87,16.99,16.86,16.81
];
const stNoEsaGsw = [
15.98,16.12,15.85,15.92,15.82,15.95,15.88,16.15,15.84,15.90,15.72,15.94,15.85,15.92,15.82,15.93,15.84,15.90,15.78,15.81,
15.98,16.12,15.85,15.92,15.82,15.95,15.88,16.15,15.84,15.90,15.72,15.94,15.85,15.92,15.82,15.93,15.84,15.90,15.78,15.81,
15.98,16.12,15.85,15.92,15.82,15.95,15.88,16.15,15.84,15.90,15.72,15.94,15.85,15.92,15.82,15.93,15.84,15.90,15.78,15.81,
15.98,16.12,15.85,15.92,15.82,15.95,15.88,16.15,15.84,15.90,15.72,15.94,15.85,15.92,15.82,15.93,15.84,15.90,15.78,15.81,
15.98,16.12,15.85,15.92,15.82,15.95,15.88,16.15,15.84,15.90,15.72,15.94,15.85,15.92,15.82,15.93,15.84,15.90,15.78,15.81,
15.98,16.12,15.85,15.92,15.82,15.95,15.88,16.15,15.84,15.90,15.72,15.94,15.85,15.92,15.82,15.93,15.84,15.90,15.78,15.81,
15.98,16.12,15.85,15.92,15.82,15.95,15.88,16.15,15.84,15.90,15.72,15.94,15.85,15.92,15.82,15.93,15.84,15.90,15.78,15.81,
15.98,16.12,15.85,15.92,15.82,15.95,15.88,16.15,15.84,15.90,15.72,15.94,15.85,15.92,15.82,15.93,15.84,15.90,15.78,15.81,
15.98,16.12,15.85,15.92,15.82,15.95,15.88,16.15,15.84,15.90,15.72,15.94,15.85,15.92,15.82,15.93,15.84,15.90,15.78,15.81,
15.98,16.12,15.85,15.92,15.82,15.95,15.88,16.15,15.84,15.90,15.72,15.94,15.85,15.92,15.82,15.93,15.84,15.90,15.78,15.81,
15.92,16.06,15.79,15.86,15.76,15.89,15.82,16.09,15.78,15.84,15.66,15.88,15.79,15.86,15.76,15.87,15.78,15.84,15.72,15.75,
15.81,15.74,15.85,15.77,15.82,15.75,15.88,15.79,15.90,15.96,
16.02,15.94,16.11,16.06,16.17,16.13,16.29,16.20,16.26,16.46,
16.24,16.32,16.21,16.28,16.17,16.23,16.12,16.19,16.14,16.11,
16.18,16.24,16.17,16.29,16.20,16.26,16.39,16.23,16.28,16.19,
16.25,16.17,16.23,16.14,16.20,16.26,16.15,16.11,16.18,16.09,
16.17,16.10,16.14,16.08,16.18,16.15,16.26,16.21,16.30,16.28,
16.35,16.31,16.43,16.37,16.45,16.40,16.51,16.48,16.46,16.56,
16.52,16.49,16.58,16.62,16.68,16.63,16.71,16.83,16.72,16.74,
16.81,16.81,16.80,16.80,16.85,16.83,16.83,16.79,16.86,16.88,
16.85,16.85,16.87,16.84,16.91,17.18,16.92,16.87
];

const moistureSeries = [smWithGlcCru, smWithGlcGsw, smWithEsaCru, smWithEsaGsw, smNoGlcCru, smNoGlcGsw, smNoEsaCru, smNoEsaGsw];
const temperatureSeries = [stWithGlcCru, stWithGlcGsw, stWithEsaCru, stWithEsaGsw, stNoGlcCru, stNoGlcGsw, stNoEsaCru, stNoEsaGsw];

const FRAME = "#8c8c8c";
const GRID = "#d4d4d4";

function drawPanel({el, series, xDomain, yDomain, yTicks, yLabel, tag, title, early, late, delta, lateX}) {
  const marks = [
    Plot.gridY(yTicks, {stroke: GRID, strokeOpacity: 1, strokeWidth: 0.8, strokeDasharray: "1.2,1.8"}),
    Plot.gridX(xGridYears, {stroke: GRID, strokeOpacity: 1, strokeWidth: 0.8, strokeDasharray: "1.2,1.8"})
  ];
  // each run: annual values (thin) and a 10-year running mean (thick)
  for (const i of drawOrder) {
    const rows = years.map((year, j) => ({year, value: series[i][j]}));
    marks.push(Plot.line(rows, {x: "year", y: "value", stroke: seriesColors[i], strokeWidth: 0.9, strokeOpacity: 0.7}));
    marks.push(Plot.line(rows, Plot.windowY({k: 10}, {x: "year", y: "value", stroke: seriesColors[i], strokeWidth: 2.4})));
  }
  marks.push(
    Plot.frame({stroke: FRAME, strokeWidth: 1}),
    Plot.axisX(xTickYears, {tickSize: 3.5, tickFormat: () => "", stroke: FRAME, label: null}),
    Plot.axisY(yTicks, {tickSize: 3.5, tickFormat: () => "", stroke: FRAME, label: null}),
    Plot.text(xLabelYears, {x: d => d, text: d => String(d), frameAnchor: "bottom", dy: 10, lineAnchor: "middle", fontSize: 13.4, fill: "#111"}),
    Plot.text(yTicks, {y: d => d, text: d => String(d), frameAnchor: "left", dx: -13.5, rotate: -90, textAnchor: "middle", lineAnchor: "middle", fontSize: 13.4, fill: "#111"}),
    Plot.text([yLabel], {text: d => d, frameAnchor: "left", dx: -35, rotate: -90, textAnchor: "middle", lineAnchor: "middle", fontSize: 13.7, fill: "#111"}),
    Plot.text(["Year"], {text: d => d, frameAnchor: "bottom", dy: 27.5, lineAnchor: "middle", fontSize: 13.7, fill: "#111"}),
    Plot.text([tag], {text: d => d, frameAnchor: "bottom-left", dx: 17, dy: -15, textAnchor: "start", lineAnchor: "middle", fontSize: 15.5, fontWeight: "bold", fill: "#000"})
  );

  const svg = Plot.plot({
    width: 500,
    height: 367,
    marginTop: 53,
    marginBottom: 39,
    marginLeft: 53,
    marginRight: 10,
    x: {domain: xDomain},
    y: {domain: yDomain},
    style: {fontFamily: "DejaVu Sans", background: "transparent", overflow: "visible"},
    marks
  });
  el.appendChild(svg);

  // legend box in the upper-left corner of the axes
  const g = d3.select(svg).append("g")
    .style("font-family", "DejaVu Sans")
    .style("font-size", "11.2px")
    .attr("text-anchor", "start");
  g.append("rect").attr("x", 56).attr("y", 55).attr("width", 425).attr("height", 112).attr("fill", "#fff");
  const head = g.append("g").style("font-weight", "bold").attr("fill", "#333");
  head.append("text").attr("x", 292.5).attr("y", 66.5).text("1700s");
  head.append("text").attr("x", 340.5).attr("y", 66.5).text("Last 20 y");
  head.append("text").attr("x", 404.5).attr("y", 66.5).text("Change");
  seriesNames.forEach((name, i) => {
    const base = 83.5 + 11.6 * i;
    g.append("line").attr("x1", 66).attr("x2", 94).attr("y1", base - 4).attr("y2", base - 4)
      .attr("stroke", seriesColors[i]).attr("stroke-width", 2);
    const t = g.append("g").attr("fill", "#1a1a1a");
    t.append("text").attr("x", 97.3).attr("y", base).text(name);
    t.append("text").attr("x", 300).attr("y", base).text(`(${early[i]},`);
    t.append("text").attr("x", lateX).attr("y", base).text(`${late[i]},`);
    t.append("text").attr("x", 402.5).attr("y", base).text(`Δ=${delta[i]})`);
  });

  const titleDiv = document.createElement("div");
  titleDiv.className = "title";
  titleDiv.innerHTML = title.join("<br>");
  el.appendChild(titleDiv);
}

drawPanel({
  el: document.getElementById("panelA"),
  series: moistureSeries,
  xDomain: [1688, 2031],
  yDomain: [211.2, 259.2],
  yTicks: moistTicks,
  yLabel: "Soil moisture (mm)",
  tag: "a)",
  title: ["Globally averaged soil moisture (top 1 m)", "(excluding Greenland and Antarctica)"],
  early: moistEarly, late: moistLate, delta: moistDelta, lateX: 358
});

drawPanel({
  el: document.getElementById("panelB"),
  series: temperatureSeries,
  xDomain: [1691.5, 2030.7],
  yDomain: [14.37, 19.72],
  yTicks: tempTicks,
  yLabel: "Soil temperature (degrees C)",
  tag: "b)",
  title: ["Globally averaged soil temperature (top 1 m)", "(excluding Greenland and Antarctica)"],
  early: tempEarly, late: tempLate, delta: tempDelta, lateX: 356
});
</script>
</body>
</html>
